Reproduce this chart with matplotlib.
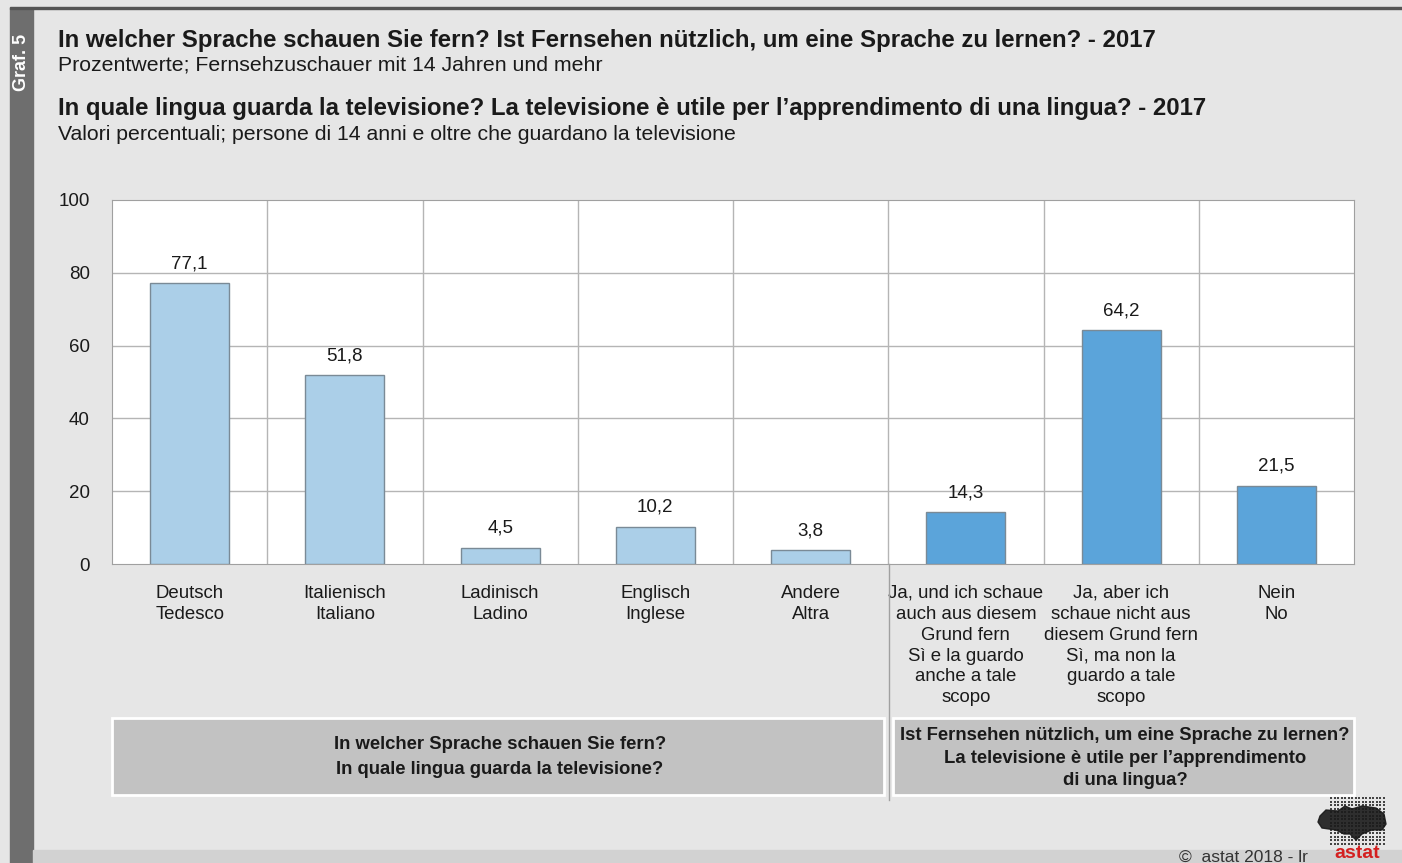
import numpy as np
from matplotlib import pyplot as plt
from matplotlib.patches import Rectangle

plt.rcParams['font.family'] = ['Liberation Sans', 'DejaVu Sans']

#Data
categories = ['Deutsch\nTedesco', 'Italienisch\nItaliano', 'Ladinisch\nLadino',
              'Englisch\nInglese', 'Andere\nAltra',
              'Ja, und ich schaue\nauch aus diesem\nGrund fern\nSì e la guardo\nanche a tale\nscopo',
              'Ja, aber ich\nschaue nicht aus\ndiesem Grund fern\nSì, ma non la\nguardo a tale\nscopo',
              'Nein\nNo']
values = [77.1, 51.8, 4.5, 10.2, 3.8, 14.3, 64.2, 21.5]
groups = [0, 0, 0, 0, 0, 1, 1, 1]
yticks = [0, 20, 40, 60, 80, 100]

W, H = 1402, 863
fig = plt.figure(figsize=(W/100, H/100), dpi=100)
fig.patch.set_facecolor('#e6e6e6')

def px(x, y):
    return x/W, 1 - y/H

#background decorations
fig.patches.append(Rectangle(px(10, 863), 23/W, 855/H, transform=fig.transFigure, color='#6e6e6e', zorder=0))
fig.patches.append(Rectangle(px(33, 863), (W-33)/W, 13/H, transform=fig.transFigure, color='#d2d2d2', zorder=0))
fig.patches.append(Rectangle(px(10, 9), (W-10)/W, 2/H, transform=fig.transFigure, color='#555555', zorder=0))
fig.text(*px(21, 62), 'Graf. 5', rotation=90, color='white', fontsize=13, fontweight='bold', ha='center', va='center')

#titles
fig.text(*px(58, 40), 'In welcher Sprache schauen Sie fern? Ist Fernsehen nützlich, um eine Sprache zu lernen? - 2017',
         fontsize=17.3, fontweight='bold', color='#1a1a1a', va='center')
fig.text(*px(58, 65), 'Prozentwerte; Fernsehzuschauer mit 14 Jahren und mehr', fontsize=15.3, color='#1a1a1a', va='center')
fig.text(*px(58, 109), 'In quale lingua guarda la televisione? La televisione è utile per l\u2019apprendimento di una lingua? - 2017',
         fontsize=17.3, fontweight='bold', color='#1a1a1a', va='center')
fig.text(*px(58, 134), 'Valori percentuali; persone di 14 anni e oltre che guardano la televisione', fontsize=15.3, color='#1a1a1a', va='center')

#main axes
x0, x1, ytop, ybot = 112, 1354, 200, 564
ax = fig.add_axes([x0/W, 1-ybot/H, (x1-x0)/W, (ybot-ytop)/H])
ax.set_facecolor('white')
xpos = np.arange(len(values))
colors = ['#abcfe8' if g == 0 else '#5ba4da' for g in groups]
ax.bar(xpos, values, width=0.51, color=colors, edgecolor='#7a8a96', linewidth=1, zorder=3)
for x, v in zip(xpos, values):
    ax.text(x, v + 3.0, ('%.1f' % v).replace('.', ','), ha='center', va='bottom', fontsize=13.5, color='#1a1a1a')
ax.set_xlim(-0.5, len(values) - 0.5)
ax.set_ylim(0, 100)
ax.set_yticks(yticks)
ax.set_yticklabels([str(t) for t in yticks], fontsize=13.5, color='#1a1a1a')
ax.tick_params(axis='y', length=0, pad=16)
ax.set_xticks(xpos)
ax.set_xticklabels(categories, fontsize=13.4, color='#1a1a1a', linespacing=1.3, va='top')
ax.tick_params(axis='x', length=0, pad=15)
for y in yticks[1:-1]:
    ax.axhline(y, color='#b5b5b5', linewidth=1, zorder=1)
for x in xpos[:-1]:
    ax.axvline(x + 0.5, color='#b5b5b5', linewidth=1, zorder=1)
for s in ax.spines.values():
    s.set_color('#a0a0a0')

#separator line between the two questions
fig.add_artist(plt.Line2D([889/W, 889/W], [1-564/H, 1-800/H], color='#a0a0a0', linewidth=1))

#group boxes
fig.patches.append(Rectangle(px(112, 795), (884-112)/W, 77/H, transform=fig.transFigure,
                             facecolor='#c2c2c2', edgecolor='white', linewidth=2))
fig.patches.append(Rectangle(px(893, 795), (1354-893)/W, 77/H, transform=fig.transFigure,
                             facecolor='#c2c2c2', edgecolor='white', linewidth=2))
fig.text(*px(500, 757), 'In welcher Sprache schauen Sie fern?\nIn quale lingua guarda la televisione?',
         ha='center', va='center', fontsize=13.3, fontweight='bold', color='#1a1a1a', linespacing=1.6)
fig.text(*px(1125, 758), 'Ist Fernsehen nützlich, um eine Sprache zu lernen?\nLa televisione è utile per l\u2019apprendimento\ndi una lingua?',
         ha='center', va='center', fontsize=13.3, fontweight='bold', color='#1a1a1a', linespacing=1.4)

#footer and logo
fig.text(*px(1308, 865), '\u00a9  astat 2018 - lr', ha='right', va='bottom', fontsize=12.5, color='#333333')
fig.text(*px(1357, 862), 'astat', ha='center', va='bottom', fontsize=14, fontweight='bold', color='#d42020')
ax_logo = fig.add_axes([0, 0, 1, 1], facecolor='none')
ax_logo.set_xlim(0, W)
ax_logo.set_ylim(H, 0)
ax_logo.axis('off')
gx, gy = np.meshgrid(np.arange(1331, 1384, 3.5), np.arange(798, 845, 3.5))
ax_logo.scatter(gx.ravel(), gy.ravel(), s=2, color='#444444', marker='s', linewidths=0)
blob_x = [1320, 1326, 1338, 1345, 1352, 1362, 1376, 1384, 1386, 1382, 1372, 1362, 1356, 1350, 1344, 1336, 1322, 1318]
blob_y = [816, 810, 811, 806, 809, 806, 808, 814, 824, 830, 830, 834, 840, 834, 834, 830, 828, 822]
ax_logo.fill(blob_x, blob_y, color='#1a1a1a', alpha=0.9)

fig.savefig('out.png', dpi=100, facecolor=fig.get_facecolor())
